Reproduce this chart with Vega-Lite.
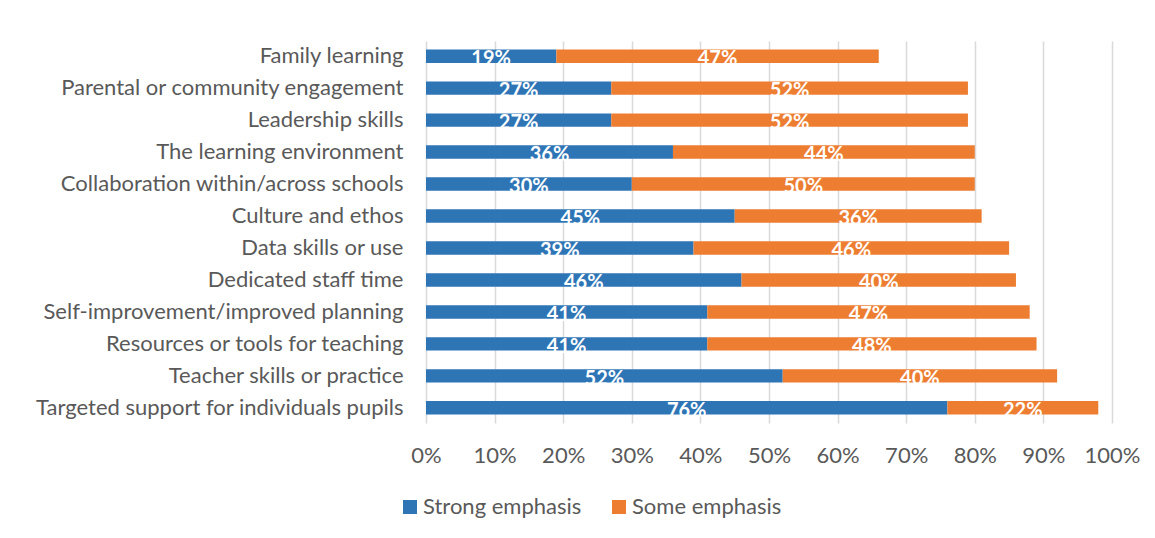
{
  "$schema": "https://vega.github.io/schema/vega-lite/v6.json",
  "width": 686,
  "height": 382,
  "autosize": {"type": "none"},
  "padding": {"left": 426, "top": 41, "right": 43, "bottom": 115},
  "background": "white",
  "config": {
    "view": {"stroke": null},
    "font": "Lato",
    "axis": {"labelColor": "#595959", "labelFont": "Lato", "labelFontSize": 22, "gridColor": "#d9d9d9", "gridWidth": 1.5, "ticks": false, "domain": false, "title": null}
  },
  "data": {
    "values": [
      {"category": "Family learning", "series": "Strong emphasis", "value": 0.19},
      {"category": "Family learning", "series": "Some emphasis", "value": 0.47},
      {"category": "Parental or community engagement", "series": "Strong emphasis", "value": 0.27},
      {"category": "Parental or community engagement", "series": "Some emphasis", "value": 0.52},
      {"category": "Leadership skills", "series": "Strong emphasis", "value": 0.27},
      {"category": "Leadership skills", "series": "Some emphasis", "value": 0.52},
      {"category": "The learning environment", "series": "Strong emphasis", "value": 0.36},
      {"category": "The learning environment", "series": "Some emphasis", "value": 0.44},
      {"category": "Collaboration within/across schools", "series": "Strong emphasis", "value": 0.30},
      {"category": "Collaboration within/across schools", "series": "Some emphasis", "value": 0.50},
      {"category": "Culture and ethos", "series": "Strong emphasis", "value": 0.45},
      {"category": "Culture and ethos", "series": "Some emphasis", "value": 0.36},
      {"category": "Data skills or use", "series": "Strong emphasis", "value": 0.39},
      {"category": "Data skills or use", "series": "Some emphasis", "value": 0.46},
      {"category": "Dedicated staff time", "series": "Strong emphasis", "value": 0.46},
      {"category": "Dedicated staff time", "series": "Some emphasis", "value": 0.40},
      {"category": "Self-improvement/improved planning", "series": "Strong emphasis", "value": 0.41},
      {"category": "Self-improvement/improved planning", "series": "Some emphasis", "value": 0.47},
      {"category": "Resources or tools for teaching", "series": "Strong emphasis", "value": 0.41},
      {"category": "Resources or tools for teaching", "series": "Some emphasis", "value": 0.48},
      {"category": "Teacher skills or practice", "series": "Strong emphasis", "value": 0.52},
      {"category": "Teacher skills or practice", "series": "Some emphasis", "value": 0.40},
      {"category": "Targeted support for individuals pupils", "series": "Strong emphasis", "value": 0.76},
      {"category": "Targeted support for individuals pupils", "series": "Some emphasis", "value": 0.22}
    ]
  },
  "encoding": {
    "y": {
      "field": "category", "type": "nominal", "sort": null,
      "scale": {"paddingInner": 0.58, "paddingOuter": 0.265},
      "axis": {"labelPadding": 23, "grid": false, "labelLimit": 500}
    }
  },
  "layer": [
    {
      "mark": {"type": "bar"},
      "encoding": {
        "x": {
          "field": "value", "type": "quantitative", "stack": "zero",
          "scale": {"domain": [0, 1]},
          "axis": {"format": ".0%", "values": [0, 0.1, 0.2, 0.3, 0.4, 0.5, 0.6, 0.7, 0.8, 0.9, 1], "labelPadding": 22, "grid": true, "labelOverlap": false, "labelFlush": false}
        },
        "order": {"field": "series", "sort": "descending"},
        "color": {
          "field": "series", "type": "nominal",
          "sort": ["Strong emphasis", "Some emphasis"],
          "scale": {"domain": ["Strong emphasis", "Some emphasis"], "range": ["#2E75B6", "#ED7D31"]},
          "legend": {
            "title": null, "orient": "none", "direction": "horizontal",
            "legendX": -27, "legendY": 455,
            "symbolType": "square", "symbolSize": 196, "symbolStrokeWidth": 0,
            "labelFontSize": 22, "labelColor": "#595959", "labelFont": "Lato",
            "columnPadding": 26, "labelOffset": 2
          }
        }
      }
    },
    {
      "mark": {"type": "text", "color": "white", "fontWeight": "bold", "fontSize": 20, "baseline": "alphabetic", "dy": 9},
      "encoding": {
        "x": {"field": "value", "type": "quantitative", "stack": "zero", "bandPosition": 0.5},
        "text": {"field": "value", "type": "quantitative", "format": ".0%"},
        "order": {"field": "series", "sort": "descending"}
      }
    }
  ]
}
